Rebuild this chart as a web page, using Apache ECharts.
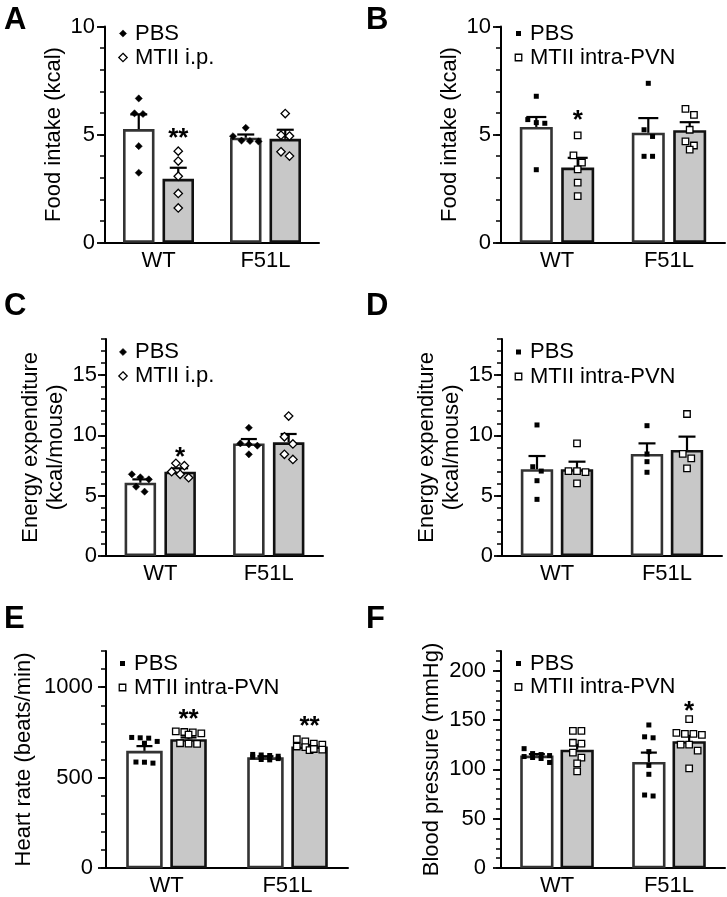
<!DOCTYPE html>
<html><head><meta charset="utf-8">
<script src="https://cdn.jsdelivr.net/npm/echarts@6/dist/echarts.min.js"></script>
<style>html,body{margin:0;padding:0;background:#fff}#c{width:727px;height:897px}</style>
</head><body><div id="c"></div>
<script>
// ---------------- DATA ----------------
const categories = ['WT', 'F51L'];

// Panel A – Food intake, MTII i.p.
const aPbsMean = [5.25, 4.85], aPbsSem = [0.68, 0.15];
const aMtiiMean = [2.95, 4.80], aMtiiSem = [0.51, 0.42];
const aPbsPoints = [[6.67, 5.98, 5.95, 4.46, 3.23], [5.31, 4.92, 4.72, 4.70, 4.68]];
const aMtiiPoints = [[4.23, 3.77, 3.07, 2.27, 1.60], [5.97, 4.97, 4.93, 4.20, 4.00]];
const aMtiiSig = ['**', ''];
const aTicks = [0, 5, 10];

// Panel B – Food intake, MTII intra-PVN
const bPbsMean = [5.35, 5.08], bPbsSem = [0.46, 0.68];
const bMtiiMean = [3.47, 5.20], bMtiiSem = [0.45, 0.37];
const bPbsPoints = [[6.77, 5.69, 5.55, 5.52, 3.37], [7.37, 5.22, 4.91, 3.99, 3.99]];
const bMtiiPoints = [[4.96, 4.03, 3.70, 3.39, 2.77, 2.15], [6.19, 5.91, 5.22, 4.68, 4.49, 4.30]];
const bMtiiSig = ['*', ''];
const bTicks = [0, 5, 10];

// Panel C – Energy expenditure, MTII i.p.
const cPbsMean = [6.06, 9.33], cPbsSem = [0.28, 0.36];
const cMtiiMean = [6.98, 9.42], cMtiiSem = [0.28, 0.69];
const cPbsPoints = [[6.76, 6.51, 6.34, 5.73, 5.32], [10.63, 9.33, 9.25, 9.14, 8.42]];
const cMtiiPoints = [[7.67, 7.48, 6.98, 6.76, 6.48], [11.60, 9.88, 9.28, 8.42, 8.00]];
const cMtiiSig = ['*', ''];
const cTicks = [0, 5, 10, 15];

// Panel D – Energy expenditure, MTII intra-PVN
const dPbsMean = [7.18, 8.45], dPbsSem = [1.10, 0.88];
const dMtiiMean = [7.18, 8.78], dMtiiSem = [0.63, 1.11];
const dPbsPoints = [[10.86, 7.39, 7.03, 6.23, 4.68], [10.80, 8.45, 7.81, 6.93]];
const dMtiiPoints = [[9.33, 7.03, 6.95, 7.03, 6.01], [11.77, 8.45, 8.09, 7.26]];
const dMtiiSig = ['', ''];
const dTicks = [0, 5, 10, 15];

// Panel E – Heart rate
const ePbsMean = [648, 612], ePbsSem = [26, 6];
const eMtiiMean = [712, 672], eMtiiSem = [10, 8];
const ePbsPoints = [[722, 718, 720, 700, 690, 585, 580, 586], [628, 622, 618, 612, 610, 605, 600, 598, 615, 625]];
const eMtiiPoints = [[752, 750, 738, 744, 755, 688, 686, 690], [700, 712, 682, 672, 668, 688, 655, 652, 658]];
const eMtiiSig = ['**', '**'];
const eTicks = [0, 500, 1000];

// Panel F – Blood pressure
const fPbsMean = [114, 107.5], fPbsSem = [1.5, 9.5];
const fMtiiMean = [120, 128.5], fMtiiSem = [5, 5.5];
const fPbsPoints = [[121, 116, 115, 114, 113, 112, 111, 107], [145, 132, 133, 118, 104, 95, 73, 74]];
const fMtiiPoints = [[139, 139, 126, 127, 117, 112, 106, 98], [151, 135, 137, 136, 136, 125, 125, 119, 101]];
const fMtiiSig = ['', '*'];
const fTicks = [0, 50, 100, 150, 200];

// ---------------- LAYOUT ----------------
const FONT = 'Liberation Sans, Arial, Helvetica, sans-serif';
const panels = [
  { letter: 'A', lx: 4, ly: 5, grid: { left: 105, top: 26.5, width: 214, height: 216 }, yMax: 10, minor: 1, ticks: aTicks,
    name: 'Food intake (kcal)', nameGap: 38, lm: 10, bw: 31.5, gap: 8, cap: 17, mk: 'diamond', starOff: 12,
    leg: { mx: 123, tx: 135, y1: 33.5, y2: 57.5, labels: ['PBS', 'MTII i.p.'] },
    pbsMean: aPbsMean, pbsSem: aPbsSem, mtiiMean: aMtiiMean, mtiiSem: aMtiiSem, pbsPts: aPbsPoints, mtiiPts: aMtiiPoints, sig: aMtiiSig },
  { letter: 'B', lx: 366, ly: 5, grid: { left: 501, top: 26.5, width: 224, height: 216 }, yMax: 10, minor: 1, ticks: bTicks,
    name: 'Food intake (kcal)', nameGap: 38, lm: 10, bw: 33, gap: 8.4, cap: 20, mk: 'square', starOff: 15,
    leg: { mx: 518.5, tx: 530, y1: 33.5, y2: 57.5, labels: ['PBS', 'MTII intra-PVN'] },
    pbsMean: bPbsMean, pbsSem: bPbsSem, mtiiMean: bMtiiMean, mtiiSem: bMtiiSem, pbsPts: bPbsPoints, mtiiPts: bMtiiPoints, sig: bMtiiSig },
  { letter: 'C', lx: 4, ly: 291, grid: { left: 106, top: 339, width: 217, height: 216.7 }, yMax: 18, minor: 1, ticks: cTicks,
    name: 'Energy expenditure\n(kcal/mouse)', nameGap: 29, lm: 9, bw: 31.5, gap: 8.3, cap: 16, mk: 'diamond', starOff: 6,
    leg: { mx: 123, tx: 135, y1: 352, y2: 376, labels: ['PBS', 'MTII i.p.'] },
    pbsMean: cPbsMean, pbsSem: cPbsSem, mtiiMean: cMtiiMean, mtiiSem: cMtiiSem, pbsPts: cPbsPoints, mtiiPts: cMtiiPoints, sig: cMtiiSig },
  { letter: 'D', lx: 366, ly: 291, grid: { left: 502, top: 339, width: 220, height: 216.7 }, yMax: 18, minor: 1, ticks: dTicks,
    name: 'Energy expenditure\n(kcal/mouse)', nameGap: 29, lm: 9, bw: 32.4, gap: 7.6, cap: 17, mk: 'square', starOff: 11,
    leg: { mx: 518.5, tx: 530, y1: 352, y2: 376.5, labels: ['PBS', 'MTII intra-PVN'] },
    pbsMean: dPbsMean, pbsSem: dPbsSem, mtiiMean: dMtiiMean, mtiiSem: dMtiiSem, pbsPts: dPbsPoints, mtiiPts: dMtiiPoints, sig: dMtiiSig },
  { letter: 'E', lx: 4, ly: 604, grid: { left: 106, top: 651, width: 242, height: 223 }, yMax: 1200, minor: 100, ticks: eTicks,
    name: 'Heart rate (beats/min)', nameGap: 70, lm: 13, bw: 36.5, gap: 7.6, cap: 16, mk: 'square', starOff: 12,
    leg: { mx: 122.5, tx: 134, y1: 663.5, y2: 687.5, labels: ['PBS', 'MTII intra-PVN'] },
    pbsMean: ePbsMean, pbsSem: ePbsSem, mtiiMean: eMtiiMean, mtiiSem: eMtiiSem, pbsPts: ePbsPoints, mtiiPts: eMtiiPoints, sig: eMtiiSig },
  { letter: 'F', lx: 366, ly: 604, grid: { left: 501, top: 651, width: 224, height: 223 }, yMax: 220, minor: 10, ticks: fTicks,
    name: 'Blood pressure (mmHg)', nameGap: 57, lm: 15, bw: 33.3, gap: 7, cap: 16, mk: 'square', starOff: 7,
    leg: { mx: 518.5, tx: 530, y1: 663.5, y2: 687, labels: ['PBS', 'MTII intra-PVN'] },
    pbsMean: fPbsMean, pbsSem: fPbsSem, mtiiMean: fMtiiMean, mtiiSem: fMtiiSem, pbsPts: fPbsPoints, mtiiPts: fMtiiPoints, sig: fMtiiSig }
];

// ---------------- HELPERS ----------------
function swarm(ys, d, maxRow) {
  const order = ys.map((y, i) => i).sort((a, b) => ys[a] - ys[b]);
  const offs = new Array(ys.length).fill(0);
  let row = [], rowY = null;
  const flush = () => row.forEach((i, j) => { offs[i] = (j - (row.length - 1) / 2) * d; });
  for (const i of order) {
    if (row.length && ys[i] - rowY < d * 0.9 && row.length < maxRow) row.push(i);
    else { if (row.length) flush(); row = [i]; rowY = ys[i]; }
  }
  if (row.length) flush();
  return offs;
}

function marker(kind, filled, x, y) {
  if (kind === 'diamond') {
    const h = filled ? 3.6 : 4.2;
    return { type: 'polygon', shape: { points: [[x, y - h], [x + h, y], [x, y + h], [x - h, y]] },
      style: { fill: filled ? '#000' : '#fff', stroke: '#000', lineWidth: filled ? 0.5 : 1.3 } };
  }
  const s = filled ? 5 : 6.5;
  return { type: 'rect', shape: { x: x - s / 2, y: y - s / 2, width: s, height: s },
    style: { fill: filled ? '#000' : '#fff', stroke: filled ? null : '#000', lineWidth: 1.3 } };
}

const grids = [], xAxes = [], yAxes = [], series = [], graphics = [];

panels.forEach((p, pi) => {
  grids.push(Object.assign({ containLabel: false }, p.grid));
  xAxes.push({ type: 'category', gridIndex: pi, data: categories,
    axisLine: { lineStyle: { color: '#000', width: 2 } }, axisTick: { show: false },
    axisLabel: { color: '#000', fontSize: 22, fontFamily: FONT, margin: 7 } });
  // main axis (minor ticks + labels)
  yAxes.push({ type: 'value', gridIndex: pi, position: 'left', min: 0, max: p.yMax, interval: p.minor,
    splitLine: { show: false },
    axisLine: { show: true, lineStyle: { color: '#000', width: 2 } },
    axisTick: { show: true, length: 5, lineStyle: { color: '#000', width: 1.5 } },
    axisLabel: { color: '#000', fontSize: 22, fontFamily: FONT, margin: p.lm,
      formatter: v => (p.ticks.indexOf(v) >= 0 ? String(v) : '') },
    name: p.name, nameLocation: 'middle', nameGap: p.nameGap, nameRotate: 90,
    nameTextStyle: { color: '#000', fontSize: 22, fontFamily: FONT, lineHeight: 25 } });
  // overlay axis (major ticks)
  yAxes.push({ type: 'value', gridIndex: pi, position: 'left', min: 0, max: p.yMax, interval: p.ticks[1],
    splitLine: { show: false }, axisLine: { show: false },
    axisTick: { show: true, length: 8, lineStyle: { color: '#000', width: 1.8 }, customValues: p.ticks },
    axisLabel: { show: false } });

  const yi = 2 * pi;
  [0, 1].forEach(g => {
    const mean = g ? p.mtiiMean : p.pbsMean, sem = g ? p.mtiiSem : p.pbsSem;
    const sign = g ? 1 : -1;
    series.push({ type: 'custom', xAxisIndex: pi, yAxisIndex: yi, z: 2,
      data: mean.map((m, i) => [i, m, sem[i]]), encode: { x: 0, y: 1 },
      renderItem: (params, api) => {
        const cat = api.value(0), m = api.value(1), s = api.value(2);
        const base = api.coord([cat, 0]), top = api.coord([cat, m]), et = api.coord([cat, m + s]);
        const cx = base[0] + sign * (p.bw + p.gap) / 2, lw = 2.6;
        return { type: 'group', children: [
          { type: 'rect', shape: { x: cx - p.bw / 2 + lw / 2, y: top[1] + lw / 2, width: p.bw - lw, height: base[1] - top[1] - lw / 2 - 1 },
            style: { fill: g ? '#c8c8c8' : '#fff', stroke: g ? '#111' : '#333', lineWidth: lw } },
          { type: 'line', shape: { x1: cx, y1: top[1], x2: cx, y2: et[1] }, style: { stroke: '#000', lineWidth: 2.2 } },
          { type: 'line', shape: { x1: cx - p.cap / 2, y1: et[1], x2: cx + p.cap / 2, y2: et[1] }, style: { stroke: '#000', lineWidth: 2.2 } }
        ] };
      } });
  });
  [0, 1].forEach(g => {
    const pts = g ? p.mtiiPts : p.pbsPts, sign = g ? 1 : -1;
    series.push({ type: 'custom', xAxisIndex: pi, yAxisIndex: yi, z: 5,
      data: pts.flatMap((arr, ci) => arr.map((v, k) => [ci, v, k])), encode: { x: 0, y: 1 },
      renderItem: (params, api) => {
        const cat = api.value(0), k = api.value(2);
        const ys = pts[cat].map(u => api.coord([cat, u])[1]);
        const offs = swarm(ys, 8.5, 4);
        const cx = api.coord([cat, 0])[0] + sign * (p.bw + p.gap) / 2 + offs[k];
        return marker(p.mk, g === 0, cx, ys[k]);
      } });
  });
  series.push({ type: 'custom', xAxisIndex: pi, yAxisIndex: yi, z: 6,
    data: p.sig.map((s, i) => [i, Math.max(...p.mtiiPts[i], p.mtiiMean[i] + p.mtiiSem[i]), i]).filter(d => p.sig[d[2]]),
    encode: { x: 0, y: 1 },
    renderItem: (params, api) => {
      const c = api.coord([api.value(0), api.value(1)]);
      const cx = c[0] + (p.bw + p.gap) / 2;
      return { type: 'text', x: cx, y: c[1] - p.starOff,
        style: { text: p.sig[api.value(2)], fill: '#000', fontSize: 26, fontWeight: 'bold', fontFamily: FONT, align: 'center', verticalAlign: 'middle' } };
    } });

  // panel letter
  graphics.push({ type: 'text', left: p.lx, top: p.ly,
    style: { text: p.letter, fill: '#000', fontSize: 31, fontWeight: 'bold', fontFamily: FONT } });
  // legend
  [0, 1].forEach(g => {
    const y = g ? p.leg.y2 : p.leg.y1;
    const m = marker(p.mk, g === 0, p.leg.mx, y);
    m.z = 10;
    graphics.push(m);
    graphics.push({ type: 'text', x: p.leg.tx, y: y, z: 10,
      style: { text: p.leg.labels[g], fill: '#000', fontSize: 22, fontFamily: FONT, verticalAlign: 'middle', align: 'left' } });
  });
});

const chart = echarts.init(document.getElementById('c'), null, { renderer: 'canvas' });
chart.setOption({ animation: false, backgroundColor: '#fff', grid: grids, xAxis: xAxes, yAxis: yAxes, series: series, graphic: graphics });
</script></body></html>
